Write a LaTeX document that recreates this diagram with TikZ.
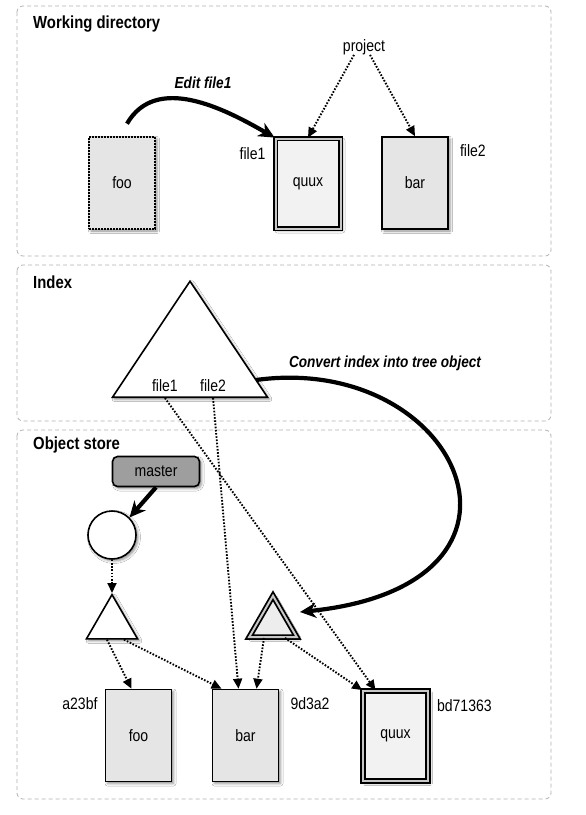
\documentclass[tikz,border=0pt]{standalone}
\usepackage{fontspec}
\setmainfont{Liberation Sans}[FakeStretch=0.85]
\usepackage{xcolor}
\usepackage{tikz}
\usetikzlibrary{shapes,arrows.meta,positioning,calc,shadows.blur}

\begin{document}
\begin{tikzpicture}[x=1pt,y=1pt,
    panel/.style={draw=black!30,dash pattern=on 4pt off 3pt,line width=0.8pt,rounded corners=6pt},
    title/.style={anchor=base west,inner sep=0pt,font=\fontsize{17.5}{20}\selectfont\bfseries},
    lbl/.style={inner sep=0pt,font=\fontsize{16.5}{19}\selectfont},
    note/.style={inner sep=0pt,font=\fontsize{16}{19}\selectfont\bfseries\itshape},
    blob/.style={blur shadow={shadow xshift=2pt,shadow yshift=-2pt,shadow blur radius=2.5pt,shadow opacity=45}},
    file/.style={draw,line width=1.6pt,fill=black!10,minimum width=66pt,minimum height=92pt,inner sep=0pt,lbl,blob},
    newfile/.style={file,line width=1.8pt,double=black!22,double distance=2pt,fill=black!5,minimum width=65pt,minimum height=90pt},
    oldfile/.style={file,line width=2.6pt,dash pattern=on 1.7pt off 1.3pt},
    commitnode/.style={circle,draw,line width=1.6pt,fill=white,minimum size=48pt,inner sep=0pt,blob},
    treenode/.style={regular polygon,regular polygon sides=3,draw,line width=1.6pt,fill=white,minimum size=59pt,inner sep=0pt,blob},
    newtree/.style={treenode,line width=1.8pt,double=black!22,double distance=2pt,fill=black!7,minimum size=55pt},
    indexnode/.style={isosceles triangle,isosceles triangle stretches,shape border rotate=90,draw,line width=1.6pt,fill=white,minimum width=155pt,minimum height=116pt,inner sep=0pt,blob},
    branch/.style={draw,line width=1.6pt,rounded corners=5pt,fill=black!38,minimum width=87pt,minimum height=30pt,inner sep=0pt,lbl,blob},
    ptr/.style={line width=1.9pt,dash pattern=on 1.6pt off 1.6pt,-{Triangle[length=10pt,width=9pt]}},
    bigarrow/.style={line width=4.2pt,-{Stealth[length=16pt,width=15pt,inset=5pt]}}]

    \useasboundingbox[fill=white] (0,0) rectangle (586,-815);

    \draw[panel] (17,-6) rectangle (551,-256);
    \draw[panel] (17,-265) rectangle (551,-421);
    \draw[panel] (17,-430) rectangle (551,-799);

    \node[title] (wdtitle) at (33,-28) {Working directory};
    \node[title] (ixtitle) at (33,-288) {Index};
    \node[title] (ostitle) at (33,-449) {Object store};

    \node[oldfile] (foowd) at (122,-183) {foo};
    \node[newfile] (quuxwd) at (308,-183.5) {quux};
    \node[file] (barwd) at (415,-183) {bar};
    \node[lbl,below left=10pt and 9pt of quuxwd.north west] (file1wd) {file1};
    \node[lbl,below right=8pt and 11pt of barwd.north east] (file2wd) {file2};
    \node[lbl] (project) at (364,-47) {project};
    \node[note] (editlbl) at (203,-83) {Edit file1};

    \draw[ptr] ([xshift=-10pt]project.south) -- (quuxwd.north);
    \draw[ptr] ([xshift=6pt]project.south) -- (barwd.north);
    \draw[bigarrow] ([shift={(5,12)}]foowd.north) to[out=60,in=150] (quuxwd.north west);

    \node[indexnode,anchor=lower side] (index) at (190,-398) {};
    \node[lbl,above left=6pt and 12pt of index.lower side] (ixfile1) {file1};
    \node[lbl,above right=6pt and 10pt of index.lower side] (ixfile2) {file2};
    \node[note] (convlbl) at (385,-363) {Convert index into tree object};

    \node[branch] (master) at (156,-471.5) {master};
    \node[commitnode] (commit) at (112,-535) {};
    \node[treenode,anchor=north] (tree) at (112,-593) {};
    \node[newtree,anchor=north] (dtree) at (273,-594) {};

    \node[file] (fooobj) at (138.5,-735.5) {foo};
    \node[file] (barobj) at (245.5,-735.5) {bar};
    \node[newfile] (quuxobj) at (395.5,-736) {quux};
    \node[lbl,below left=9pt and 7pt of fooobj.north west] (fooid) {a23bf};
    \node[lbl,below right=9pt and 11pt of barobj.north east] (barid) {9d3a2};
    \node[lbl,below right=9pt and 8pt of quuxobj.north east] (quuxid) {bd71363};

    \draw[bigarrow] ($(index.lower side)+(66,18)$) .. controls (460,-352) and (565,-585) .. ($(dtree.north)+(27,-18)$);
    \draw[bigarrow] (master.south) -- (commit.north east);
    \draw[ptr] (commit.south) -- (tree.north);
    \draw[ptr] ([xshift=-5pt]tree.south) -- ([xshift=-7pt]fooobj.north);
    \draw[ptr] ([xshift=12pt]tree.south) -- ([xshift=-24pt]barobj.north);
    \draw[ptr] ([yshift=-6pt]ixfile2.south) -- ([xshift=-7pt]barobj.north);
    \draw[ptr] ([yshift=-6pt]ixfile1.south) -- ([xshift=-20pt]quuxobj.north);
    \draw[ptr] ([xshift=-9pt]dtree.south) -- ([xshift=11pt]barobj.north);
    \draw[ptr] ([xshift=12pt]dtree.south) -- (quuxobj.north west);
\end{tikzpicture}
\end{document}
